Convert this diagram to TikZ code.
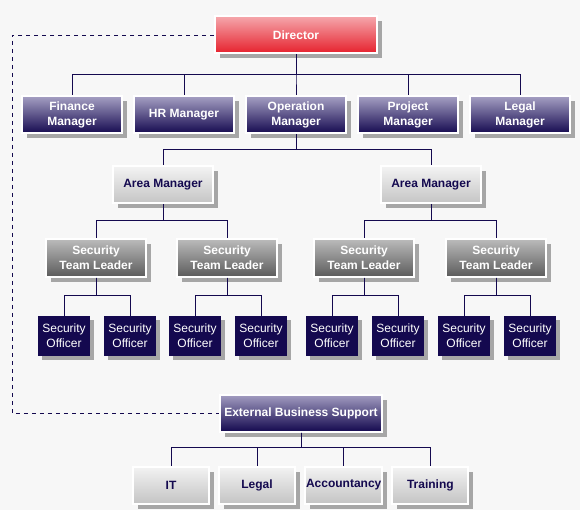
\documentclass[tikz,border=0pt]{standalone}
\usepackage{fontspec}
\setmainfont{Liberation Sans}
\usetikzlibrary{positioning,shadows}
\definecolor{orgnavy}{HTML}{14094F}
\definecolor{navytop}{HTML}{A49EC2}
\definecolor{redtop}{HTML}{F5A6AB}
\definecolor{redbot}{HTML}{E6202C}
\definecolor{greytop}{HTML}{F3F3F3}
\definecolor{greybot}{HTML}{C4C4C4}
\definecolor{leadtop}{HTML}{BABABA}
\definecolor{leadbot}{HTML}{5C5C5C}
\definecolor{shadowgrey}{HTML}{A6A6A6}
\definecolor{pagegrey}{HTML}{F7F7F7}
\tikzset{
  orgbox/.style={draw=white,line width=2pt,minimum width=100pt,minimum height=37pt,inner sep=1pt,align=center,
    font=\bfseries\fontsize{12}{15}\selectfont,
    drop shadow={shadow xshift=5pt,shadow yshift=-5pt,fill=shadowgrey,opacity=1}},
  topbox/.style={orgbox,top color=redtop,bottom color=redbot,text=white},
  navybox/.style={orgbox,top color=navytop,bottom color=orgnavy,text=white},
  greybox/.style={orgbox,top color=greytop,bottom color=greybot,text=orgnavy},
  leadbox/.style={orgbox,top color=leadtop,bottom color=leadbot,text=white},
  officerbox/.style={fill=orgnavy,minimum width=52pt,minimum height=40pt,inner sep=1pt,align=center,text=white,
    font=\fontsize{12}{15}\selectfont,
    drop shadow={shadow xshift=4pt,shadow yshift=-4pt,fill=shadowgrey,opacity=1}},
  orgline/.style={draw=orgnavy,line width=0.9pt},
  dashline/.style={orgline,dash pattern=on 4pt off 4pt}
}
\begin{document}
\begin{tikzpicture}[x=1pt,y=-1pt,node distance=10pt]
\fill[pagegrey] (0,0) rectangle (580,510);
\useasboundingbox (0,0) rectangle (580,510);
% top level
\node[topbox,minimum width=162pt] (dir) at (296,35) {Director};
\node[navybox] (fin) at (72,115) {Finance\\Manager};
\node[navybox,right=of fin] (hr) {HR Manager};
\node[navybox,right=of hr] (ops) {Operation\\Manager};
\node[navybox,right=of ops] (proj) {Project\\Manager};
\node[navybox,right=of proj] (legal) {Legal\\Manager};
% operations
\node[greybox] (areaA) at (163,185) {Area Manager};
\node[greybox] (areaB) at (431,185) {Area Manager};
\node[leadbox] (leadA) at (96,258) {Security\\Team Leader};
\node[leadbox] (leadB) at (227,258) {Security\\Team Leader};
\node[leadbox] (leadC) at (364,258) {Security\\Team Leader};
\node[leadbox] (leadD) at (496,258) {Security\\Team Leader};
\foreach \x [count=\i] in {64,130,195,261,332,398,464,530}
  \node[officerbox] (off\i) at (\x,336) {Security\\Officer};
% external support
\node[navybox,minimum width=162pt] (ebs) at (301,413) {External Business Support};
\node[greybox,minimum width=76pt] (it) at (171,485) {IT};
\node[greybox,minimum width=76pt,right=8pt of it] (lgl) {Legal};
\node[greybox,minimum width=76pt,right=8pt of lgl] (acc) {Accountancy};
\node[greybox,minimum width=76pt,right=8pt of acc] (trn) {Training};
% connectors
\foreach \n in {fin,hr,ops,proj,legal}
  \draw[orgline] (dir.south) -- ++(0,20) -| (\n.north);
\foreach \n in {areaA,areaB}
  \draw[orgline] (ops.south) -- ++(0,15) -| (\n.north);
\draw[orgline] (areaA.south) -- ++(0,16) -| (leadA.north);
\draw[orgline] (areaA.south) -- ++(0,16) -| (leadB.north);
\draw[orgline] (areaB.south) -- ++(0,16) -| (leadC.north);
\draw[orgline] (areaB.south) -- ++(0,16) -| (leadD.north);
\foreach \l/\a/\b in {leadA/1/2,leadB/3/4,leadC/5/6,leadD/7/8}{
  \draw[orgline] (\l.south) -- ++(0,18) -| (off\a.north);
  \draw[orgline] (\l.south) -- ++(0,18) -| (off\b.north);
}
\foreach \n in {it,lgl,acc,trn}
  \draw[orgline] (ebs.south) -- ++(0,15) -| (\n.north);
\draw[dashline] (dir.west) -- ++(-202,0) |- (ebs.west);
\end{tikzpicture}
\end{document}
